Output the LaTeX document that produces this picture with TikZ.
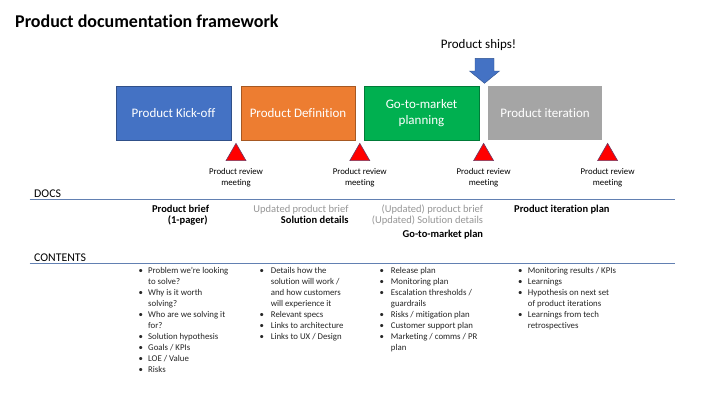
\documentclass[tikz,border=0pt]{standalone}
\usepackage{fontspec}
\setmainfont{Carlito}[Ligatures={NoCommon,TeX}]
\usetikzlibrary{shapes.geometric}
\definecolor{kblue}{RGB}{68,114,196}
\definecolor{korange}{RGB}{237,125,49}
\definecolor{kgreen}{RGB}{0,176,80}
\definecolor{kgray}{RGB}{165,165,165}
\definecolor{kedge}{RGB}{47,82,143}
\definecolor{rulecol}{RGB}{98,128,178}
\definecolor{lightdoc}{RGB}{150,150,150}
\definecolor{bodytext}{RGB}{38,38,38}
\begin{document}
\begin{tikzpicture}[x=1pt,y=-1pt,
  box/.style={fill=#1, draw=#1!70!black, line width=0.5pt, minimum height=54pt,
    inner sep=0pt, text=white, align=center, font=\fontsize{13}{15.5}\selectfont},
  tri/.style={regular polygon, regular polygon sides=3, minimum size=23.1pt,
    inner sep=0pt, outer sep=0pt, fill=red, draw=kedge!70!red, line width=0.6pt},
  rev/.style={anchor=base, inner sep=0pt, font=\fontsize{8.8}{11}\selectfont},
  doc/.style={inner sep=0pt, font=\fontsize{10.5}{12}\selectfont},
  sect/.style={anchor=base west, inner sep=0pt, font=\fontsize{11.8}{13}\selectfont},
  rulel/.style={draw=rulecol, line width=0.9pt},
  blist/.style={anchor=base west, inner sep=0pt, text=bodytext, font=\fontsize{8.8}{11}\selectfont}
]
\useasboundingbox (0,0) rectangle (720,405);
\fill[white] (0,0) rectangle (720,405);

% title
\node[anchor=base west, inner sep=0pt, font=\bfseries\fontsize{18}{20}\selectfont] (title) at (15,27) {Product documentation framework};

% product ships
\node[inner sep=0pt, font=\fontsize{13}{15}\selectfont] (ships) at (478.5,45) {Product ships!};
\fill[kblue, draw=kedge, line width=0.4pt] (475,58.3) -- (494,58.3) -- (494,71) -- (499.5,71) -- (484.5,83.3) -- (469.5,71) -- (475,71) -- cycle;

% phase boxes
\node[box=kblue, minimum width=115pt] (kick) at (173.5,113) {Product Kick-off};
\node[box=korange, minimum width=114pt] (def) at (298,113) {Product Definition};
\node[box=kgreen, minimum width=115pt] (gtm) at (421.5,113) {Go-to-market\\planning};
\node[box=kgray, draw=none, minimum width=114pt] (iter) at (545,113) {Product iteration};

% review triangles
\node[tri] (t1) at (236,154.9) {};
\node[tri] (t2) at (359.8,154.9) {};
\node[tri] (t3) at (483.6,154.9) {};
\node[tri] (t4) at (607.6,154.9) {};
\node[rev] (r1) at (236,174.1) {\begin{tabular}[t]{@{}c@{}}Product review\\meeting\end{tabular}};
\node[rev] (r2) at (359.8,174.1) {\begin{tabular}[t]{@{}c@{}}Product review\\meeting\end{tabular}};
\node[rev] (r3) at (483.6,174.1) {\begin{tabular}[t]{@{}c@{}}Product review\\meeting\end{tabular}};
\node[rev] (r4) at (607.6,174.1) {\begin{tabular}[t]{@{}c@{}}Product review\\meeting\end{tabular}};

% DOCS
\node[sect] (docs) at (34,197.8) {DOCS};
\coordinate (dl) at (29.5,199.5);
\coordinate (dr) at (675,199.5);
\draw[rulel] (dl) -- (dr);

\node[doc, anchor=base east, font=\bfseries\fontsize{10.5}{12}\selectfont] (d1a) at (209.3,212) {Product brief};
\node[doc, anchor=base east, font=\bfseries\fontsize{10.5}{12}\selectfont] (d1b) at (207.8,223) {(1-pager)};
\node[doc, anchor=base east, text=lightdoc] (d2a) at (348.7,212) {Updated product brief};
\node[doc, anchor=base east, font=\bfseries\fontsize{10.5}{12}\selectfont] (d2b) at (348.7,223) {Solution details};
\node[doc, anchor=base east, text=lightdoc] (d3a) at (483.3,212) {(Updated) product brief};
\node[doc, anchor=base east, text=lightdoc] (d3b) at (483.3,223) {(Updated) Solution details};
\node[doc, anchor=base east, font=\bfseries\fontsize{10.5}{12}\selectfont] (d3c) at (483.3,237) {Go-to-market plan};
\node[doc, anchor=base west, font=\bfseries\fontsize{10.5}{12}\selectfont] (d4a) at (514,212) {Product iteration plan};

% CONTENTS
\node[sect] (contents) at (34,261.5) {CONTENTS};
\coordinate (cl) at (29.5,263);
\coordinate (cr) at (675,263);
\draw[rulel] (cl) -- (cr);

\node[blist] (c1) at (138.5,273.8) {\begin{tabular}[t]{@{}p{9.5pt}@{}l@{}}
\textbullet & Problem we're looking\\
 & to solve?\\
\textbullet & Why is it worth\\
 & solving?\\
\textbullet & Who are we solving it\\
 & for?\\
\textbullet & Solution hypothesis\\
\textbullet & Goals / KPIs\\
\textbullet & LOE / Value\\
\textbullet & Risks
\end{tabular}};

\node[blist] (c2) at (259.5,273.8) {\begin{tabular}[t]{@{}p{11.2pt}@{}l@{}}
\textbullet & Details how the\\
 & solution will work /\\
 & and how customers\\
 & will experience it\\
\textbullet & Relevant specs\\
\textbullet & Links to architecture\\
\textbullet & Links to UX / Design
\end{tabular}};

\node[blist] (c3) at (379.5,273.8) {\begin{tabular}[t]{@{}p{11.2pt}@{}l@{}}
\textbullet & Release plan\\
\textbullet & Monitoring plan\\
\textbullet & Escalation thresholds /\\
 & guardrails\\
\textbullet & Risks / mitigation plan\\
\textbullet & Customer support plan\\
\textbullet & Marketing / comms / PR\\
 & plan
\end{tabular}};

\node[blist] (c4) at (517.8,273.8) {\begin{tabular}[t]{@{}p{9.9pt}@{}l@{}}
\textbullet & Monitoring results / KPIs\\
\textbullet & Learnings\\
\textbullet & Hypothesis on next set\\
 & of product iterations\\
\textbullet & Learnings from tech\\
 & retrospectives
\end{tabular}};
\end{tikzpicture}
\end{document}
